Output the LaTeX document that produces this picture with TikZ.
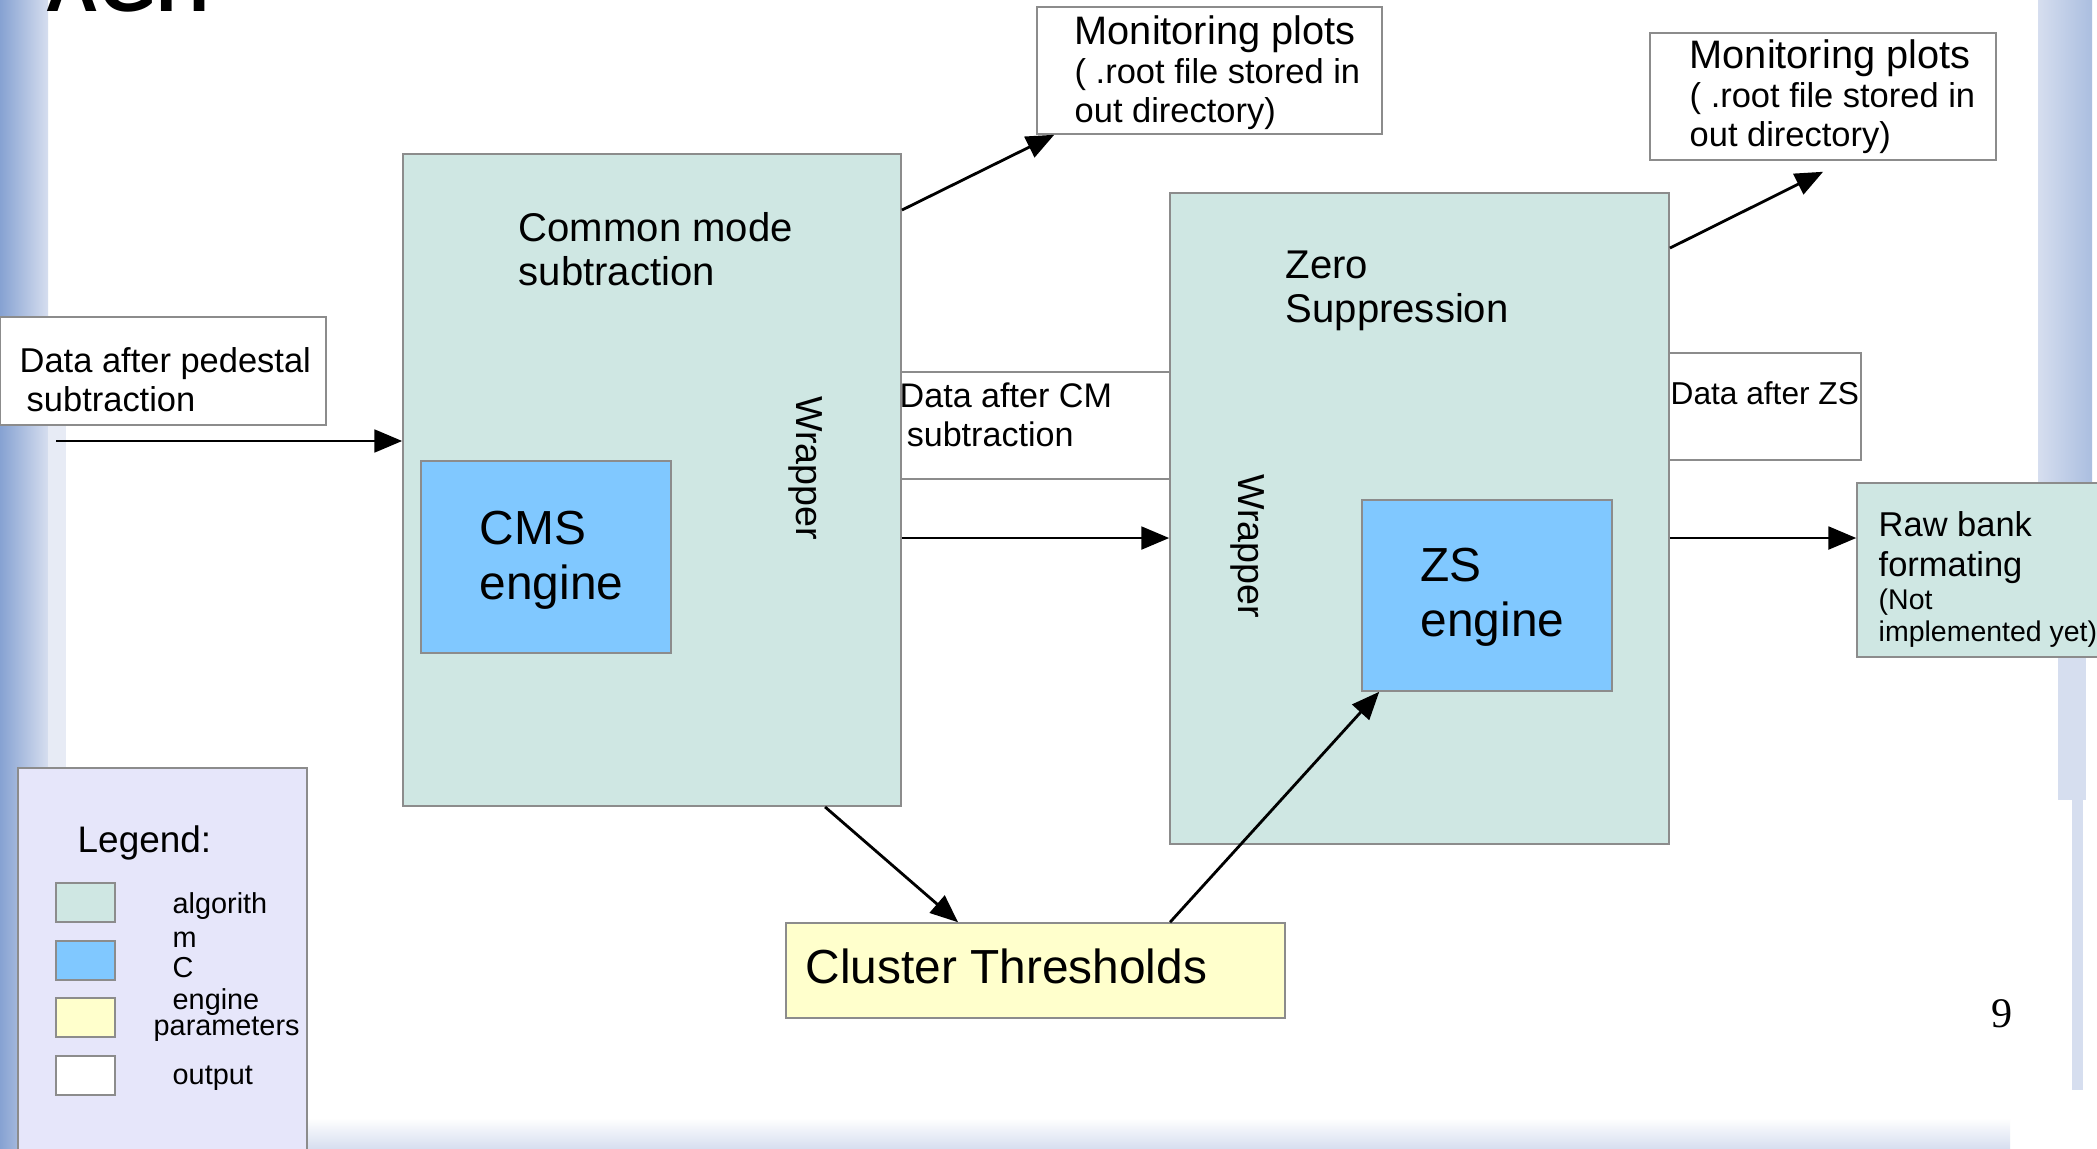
\documentclass[tikz,border=0pt]{standalone}
\usepackage{fontspec}
\setmainfont{Liberation Sans}
\newfontfamily\serifnum{Liberation Serif}
\usepackage{xcolor}
\usepackage{tikz}
\usetikzlibrary{arrows}
\usetikzlibrary{positioning}

\definecolor{algoGreen}{HTML}{CFE7E3}
\definecolor{engineBlue}{HTML}{80C8FF}
\definecolor{paramYellow}{HTML}{FFFFCC}
\definecolor{legendLilac}{HTML}{E6E6FA}
\definecolor{frameGray}{HTML}{8C8C8C}
\definecolor{brushDark}{HTML}{86A2D2}
\definecolor{brushLight}{HTML}{D6DEEF}

\begin{document}
\begin{tikzpicture}[x=0.01cm, y=-0.01cm,
  plainbox/.style={draw=frameGray, line width=0.45pt, rectangle, inner sep=0pt},
  algobox/.style={plainbox, fill=algoGreen},
  enginebox/.style={plainbox, fill=engineBlue},
  parambox/.style={plainbox, fill=paramYellow},
  outbox/.style={plainbox, fill=white},
  txt/.style={inner sep=0pt, anchor=west, align=left},
  flow/.style={->, >=triangle 45, line width=0.8pt}]
	\useasboundingbox (0,0) rectangle (2097,1149);
	\clip (0,0) rectangle (2097,1149);
	% slide background
	\fill[white] (0,0) rectangle (2097,1149);
	\shade[left color=brushDark, right color=brushLight] (0,0) rectangle (48,1149);
	\fill[brushLight!60!white] (48,330) rectangle (66,1149);
	\shade[left color=brushLight, right color=brushDark!70!white] (2038,0) rectangle (2092,560);
	\fill[brushLight] (2058,560) rectangle (2086,800);
	\fill[brushLight] (2072,800) rectangle (2083,1090);
	\shade[top color=white, bottom color=brushLight] (240,1118) rectangle (2010,1149);
	\node[inner sep=0pt, anchor=base west, font=\bfseries\fontsize{21}{21}\selectfont] (agh) at (45,12) {AGH};
	\node[font=\serifnum\fontsize{12}{12}\selectfont] (pageno) at (2002,1014) {9};

	% boxes
	\node[algobox, minimum width=4.98cm, minimum height=6.52cm] (CM) at (652,480) {};
	\node[enginebox, minimum width=2.50cm, minimum height=1.92cm] (cms) at (546,557) {};
	\node[outbox, minimum width=3.26cm, minimum height=1.08cm] (ped) at (163,371) {};
	\node[outbox, minimum width=3.45cm, minimum height=1.27cm] (mon1) at (1209.5,70.5) {};
	\node[outbox, minimum width=2.69cm, minimum height=1.07cm] (dataCM) at (1035.5,425.5) {};
	\node[algobox, minimum width=4.99cm, minimum height=6.51cm] (ZS) at (1419.5,518.5) {};
	\node[enginebox, minimum width=2.50cm, minimum height=1.91cm] (zsEng) at (1487,595.5) {};
	\node[outbox, minimum width=3.46cm, minimum height=1.27cm] (mon2) at (1823,96.5) {};
	\node[outbox, minimum width=1.92cm, minimum height=1.07cm] (dataZS) at (1765,406.5) {};
	\node[algobox, minimum width=2.53cm, minimum height=1.74cm] (raw) at (1983.5,570) {};
	\node[parambox, minimum width=4.99cm, minimum height=0.95cm] (cluster) at (1035.5,970.5) {};

	% texts
	\node[txt, font=\fontsize{9.8}{11.1}\selectfont] (pedTxt) at (19,380) {Data after pedestal\\\hspace{2pt}subtraction};
	\node[txt, font=\fontsize{11.4}{12.5}\selectfont] (cmTxt) at (518,249) {Common mode\\subtraction};
	\node[rotate=-90, inner sep=0pt, font=\fontsize{10.7}{12}\selectfont] (wrapCM) at (806,468) {Wrapper};
	\node[txt, font=\fontsize{13.6}{15.6}\selectfont] (cmsTxt) at (479,560) {CMS\\engine};
	\node[txt, font=\fontsize{9.8}{11.1}\selectfont] (mon1Txt) at (1074,73) {{\fontsize{11.3}{12}\selectfont Monitoring plots}\\( .root file stored in\\out directory)};
	\node[txt, font=\fontsize{9.7}{11.1}\selectfont] (dataCMTxt) at (899,415) {Data after CM\\\hspace{2pt}subtraction};
	\node[txt, font=\fontsize{11.4}{12.5}\selectfont] (zsTxt) at (1285,291) {Zero\\Suppression};
	\node[rotate=-90, inner sep=0pt, font=\fontsize{10.7}{12}\selectfont] (wrapZS) at (1248,546) {Wrapper};
	\node[txt, font=\fontsize{13.6}{15.6}\selectfont] (zsEngTxt) at (1420,597) {ZS\\engine};
	\node[txt, font=\fontsize{9.8}{11.1}\selectfont] (mon2Txt) at (1689,97) {{\fontsize{11.3}{12}\selectfont Monitoring plots}\\( .root file stored in\\out directory)};
	\node[txt, font=\fontsize{9}{10}\selectfont] (dataZSTxt) at (1670,393) {Data after ZS};
	\node[txt, font=\fontsize{9.8}{11.4}\selectfont] (rawTxt) at (1878,548) {Raw bank\\formating};
	\node[txt, font=\fontsize{8.1}{9.1}\selectfont] (rawNote) at (1878,618) {(Not\\implemented yet)};
	\node[txt, font=\fontsize{13.6}{15}\selectfont] (clusterTxt) at (805,966) {Cluster Thresholds};

	% legend
	\node[plainbox, fill=legendLilac, minimum width=2.89cm, minimum height=3.92cm] (legend) at (162.5,964) {};
	\node[txt, font=\fontsize{10.5}{12}\selectfont] (legTitle) at (77,843) {Legend:};
	\node[algobox, minimum width=0.59cm, minimum height=0.39cm] (keyAlgo) at (85.5,902.5) {};
	\node[enginebox, minimum width=0.59cm, minimum height=0.39cm] (keyEngine) at (85.5,960.5) {};
	\node[parambox, minimum width=0.59cm, minimum height=0.39cm] (keyParam) at (85.5,1017.5) {};
	\node[outbox, minimum width=0.59cm, minimum height=0.39cm] (keyOut) at (85.5,1075.5) {};
	\node[txt, font=\fontsize{8.2}{9.7}\selectfont] (legAlgo) at (172,920) {algorith\\m};
	\node[txt, font=\fontsize{8.2}{9.7}\selectfont] (legC) at (172,968) {C};
	\node[txt, font=\fontsize{8.2}{9.7}\selectfont] (legEngine) at (172,1002) {engine};
	\node[txt, font=\fontsize{8.2}{9.7}\selectfont] (legParam) at (153,1029) {parameters};
	\node[txt, font=\fontsize{8.2}{9.7}\selectfont] (legOut) at (172,1078) {output};

	% connectors
	\coordinate (inStart) at (56,441);
	\coordinate (cmOut) at ([yshift=-0.58cm]CM.east);
	\coordinate (zsOut) at ([yshift=-0.195cm]ZS.east);
	\draw[flow] (inStart) -- (inStart -| CM.west);
	\draw[flow] ([yshift=-0.57cm]CM.north east) -- ([xshift=0.18cm]mon1.south west);
	\draw[flow] (cmOut) -- (cmOut -| ZS.west);
	\draw[flow] ([yshift=-0.56cm]ZS.north east) -- ([yshift=-0.11cm]mon2.south);
	\draw[flow] (zsOut) -- (zsOut -| raw.west);
	\draw[flow] ([xshift=1.73cm]CM.south) -- ([xshift=-0.775cm]cluster.north);
	\draw[flow] ([xshift=1.345cm]cluster.north) -- ([xshift=0.18cm]zsEng.south west);
\end{tikzpicture}
\end{document}
